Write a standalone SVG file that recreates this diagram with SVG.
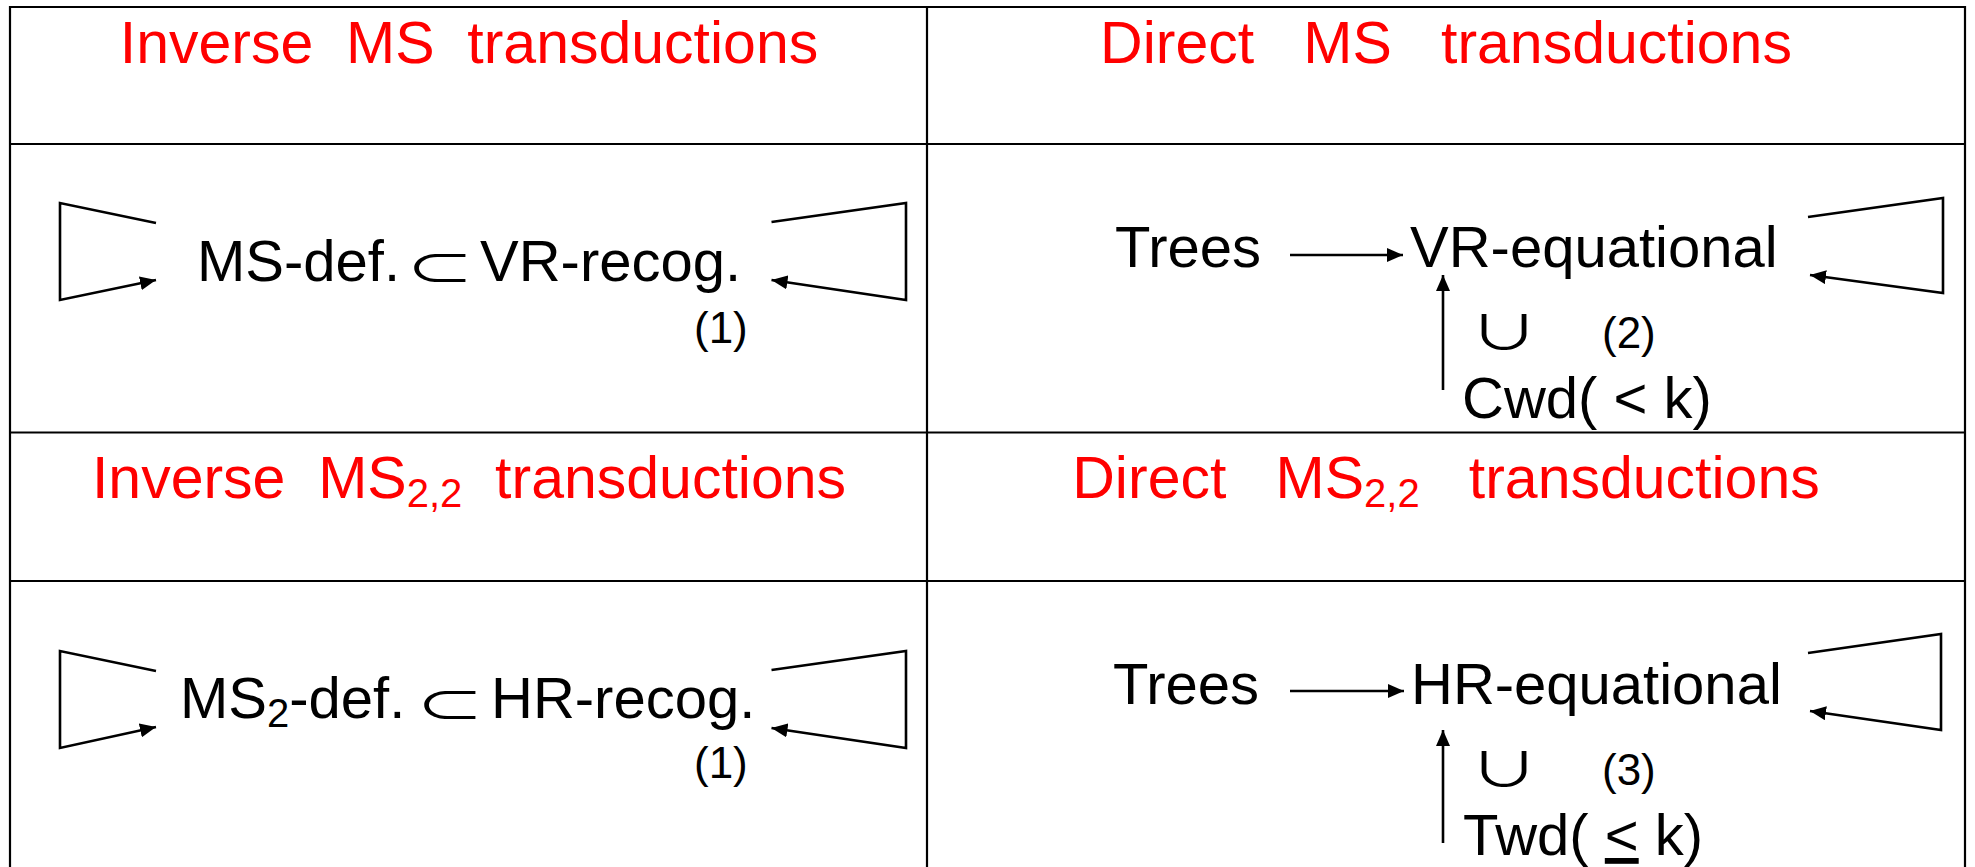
<svg xmlns="http://www.w3.org/2000/svg" width="1975" height="867" viewBox="0 0 1975 867">
<style>
.grid{stroke:#000;stroke-width:2.2;fill:none}
.t{font-family:"Liberation Sans",Arial,"DejaVu Sans",sans-serif;fill:#000}
.title{font-family:"Liberation Sans",Arial,sans-serif;fill:#FF0000;font-size:59px}
.main{font-size:58px}
.num{font-size:44px}
.sym{font-family:"Noto Sans CJK JP","DejaVu Sans",sans-serif;fill:#000;font-size:58px}
.conn{stroke:#000;stroke-width:2.6;fill:none;stroke-linejoin:miter}
</style>
<defs>
<marker id="arr" markerUnits="userSpaceOnUse" markerWidth="17" markerHeight="14" refX="16" refY="7" orient="auto" viewBox="0 0 17 14">
<path d="M0,0 L16,7 L0,14 z" fill="#000"/>
</marker>
</defs>
<rect width="1975" height="867" fill="#fff"/>
<g id="table">
<path class="grid" d="M10,7 H1965 M10,144 H1965 M10,432.5 H1965 M10,581 H1965 M10,6 V867 M927,7 V867 M1965,6 V867"/>
</g>
<g id="title-inverse-ms"><text class="title" x="469" y="63" text-anchor="middle" xml:space="preserve">Inverse  MS  transductions</text></g>
<g id="title-direct-ms"><text class="title" x="1446" y="63" text-anchor="middle" xml:space="preserve">Direct   MS   transductions</text></g>
<g id="title-inverse-ms22"><text class="title" x="469" y="498" text-anchor="middle" xml:space="preserve">Inverse  MS<tspan font-size="40" dy="9">2,2</tspan><tspan dy="-9">  transductions</tspan></text></g>
<g id="title-direct-ms22"><text class="title" x="1446" y="498" text-anchor="middle" xml:space="preserve">Direct   MS<tspan font-size="40" dy="9">2,2</tspan><tspan dy="-9">   transductions</tspan></text></g>
<g id="node-ms-def">
<text class="t main" x="197" y="281">MS-def.</text>
<text class="sym" transform="translate(440,284) scale(1.18,0.74)" text-anchor="middle">⊂</text>
<text class="t main" x="480" y="281">VR-recog.</text>
</g>
<g id="label-1a"><text class="t num" x="694" y="343">(1)</text></g>
<g id="node-ms2-def">
<text class="t main" x="180" y="718">MS<tspan font-size="40" dy="8.5">2</tspan><tspan dy="-8.5">-def.</tspan></text>
<text class="sym" transform="translate(450,721) scale(1.18,0.74)" text-anchor="middle">⊂</text>
<text class="t main" x="491" y="718">HR-recog.</text>
</g>
<g id="label-1b"><text class="t num" x="694" y="778">(1)</text></g>
<g id="node-trees-1"><text class="t main" x="1115" y="267">Trees</text></g>
<g id="node-vr-eq"><text class="t main" x="1410" y="267">VR-equational</text></g>
<g id="label-union-2"><text class="sym" transform="translate(1504,349) scale(1.2,0.8)" text-anchor="middle">∪</text><text class="t num" x="1602" y="348">(2)</text></g>
<g id="node-cwd"><text class="t main" x="1462" y="418" xml:space="preserve">Cwd( &lt; k)</text></g>
<g id="node-trees-2"><text class="t main" x="1113" y="704">Trees</text></g>
<g id="node-hr-eq"><text class="t main" x="1411" y="704">HR-equational</text></g>
<g id="label-union-3"><text class="sym" transform="translate(1504,786) scale(1.2,0.8)" text-anchor="middle">∪</text><text class="t num" x="1602" y="785">(3)</text></g>
<g id="node-twd"><text class="t main" x="1463" y="855" xml:space="preserve">Twd( <tspan text-decoration="underline">&lt;</tspan> k)</text></g>
<g id="connectors">
<path class="conn" d="M156,223 L60,203 L60,300 L156,280" marker-end="url(#arr)"/>
<path class="conn" d="M771.5,222 L906,203 L906,300 L771.5,280" marker-end="url(#arr)"/>
<path class="conn" d="M1808,217 L1943,198 L1943,293 L1810,275" marker-end="url(#arr)"/>
<path class="conn" d="M156,671 L60,651 L60,748 L156,727" marker-end="url(#arr)"/>
<path class="conn" d="M771.5,670 L906,651 L906,748 L771.5,728" marker-end="url(#arr)"/>
<path class="conn" d="M1808,653 L1941,634 L1941,730 L1810,711" marker-end="url(#arr)"/>
<path class="conn" d="M1290,255 L1403,255" marker-end="url(#arr)"/>
<path class="conn" d="M1290,691 L1404,691" marker-end="url(#arr)"/>
<path class="conn" d="M1443,390 L1443,275" marker-end="url(#arr)"/>
<path class="conn" d="M1443,843 L1443,730" marker-end="url(#arr)"/>
</g>
</svg>
